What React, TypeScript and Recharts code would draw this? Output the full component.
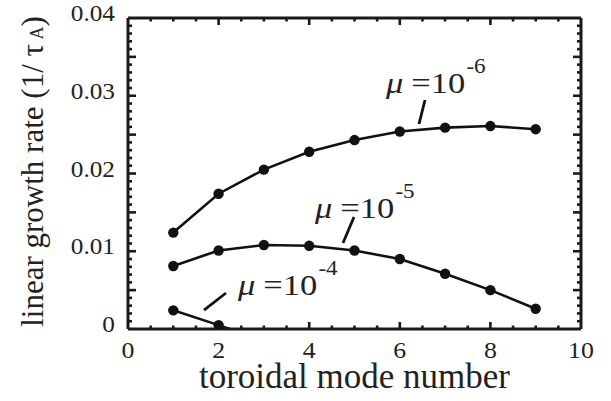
import React from 'react';
import { LineChart, Line, XAxis, YAxis, ReferenceLine, ReferenceDot, Label } from 'recharts';

// ---- data ----
const modeNumbers = [1, 2, 3, 4, 5, 6, 7, 8, 9];
const mu6 = [0.0124, 0.0174, 0.0205, 0.0228, 0.0243, 0.0254, 0.0259, 0.0261, 0.0257];
const mu5 = [0.0081, 0.0101, 0.0108, 0.0107, 0.0101, 0.009, 0.0071, 0.005, 0.0026];
const mu4 = [0.0024, 0.0005, -0.0015];

const xLabels = [0, 2, 4, 6, 8, 10];
const yLabels = [0, 0.01, 0.02, 0.03, 0.04];
const xDomain = [0, 10];
const yDomain = [0, 0.04];
const xMinorStep = 0.5;
const yMinorStep = 0.001;

const xTicks = Array.from({ length: 21 }, (_, i) => i * xMinorStep);
const yTicks = Array.from({ length: 41 }, (_, i) => Math.round(i * yMinorStep * 1000) / 1000);

const rows = modeNumbers.map((n, i) => ({
  n,
  mu6: mu6[i],
  mu5: mu5[i],
  mu4: i < mu4.length ? mu4[i] : null,
}));

// annotations (data coordinates)
const annotations = [
  { exp: '-6', at: { x: 5.695, y: 0.03035 }, seg: [{ x: 6.556, y: 0.02945 }, { x: 6.424, y: 0.02637 }] },
  { exp: '-5', at: { x: 4.128, y: 0.01428 }, seg: [{ x: 4.989, y: 0.0144 }, { x: 4.746, y: 0.01106 }] },
  { exp: '-4', at: { x: 2.428, y: 0.00437 }, seg: [{ x: 2.163, y: 0.00463 }, { x: 1.678, y: 0.00244 }] },
];

// ---- layout / styles ----
const W = 611;
const H = 401;
const MARGIN = { top: 18, right: 30, bottom: 0, left: 0 };
const Y_AXIS_W = 128;
const X_AXIS_H = 72;
const plotW = W - MARGIN.left - MARGIN.right - Y_AXIS_W;
const plotH = H - MARGIN.top - MARGIN.bottom - X_AXIS_H;
const pxToY = (px: number) => (px * (yDomain[1] - yDomain[0])) / plotH;
const pxToX = (px: number) => (px * (xDomain[1] - xDomain[0])) / plotW;

const FONT = "'Liberation Serif', 'Times New Roman', serif";
const AXIS = '#1a1a1a';
const INK = '#111111';
const TEXT = '#222222';
const STRETCH = 1.1;
const EPS_Y = 1e-7;
const EPS_X = 1e-5;
const TICK_W = 2.6;
const FRAME_W = 3;

const isMajorX = (v: number) => xLabels.some((l) => Math.abs(l - v) < 1e-9);
const isMajorY = (v: number) => Math.round(v * 1000) % 5 === 0;

const tickSegments: { key: string; seg: { x: number; y: number }[] }[] = [];
xTicks
  .filter((v) => v > xDomain[0] && v < xDomain[1])
  .forEach((v, i) => {
    const len = pxToY(isMajorX(v) ? 7 : 3.5);
    tickSegments.push({ key: `xb-${i}`, seg: [{ x: v, y: yDomain[0] + EPS_Y }, { x: v, y: yDomain[0] + len }] });
    tickSegments.push({ key: `xt-${i}`, seg: [{ x: v, y: yDomain[1] - EPS_Y }, { x: v, y: yDomain[1] - len }] });
  });
yTicks
  .filter((v) => v > yDomain[0] + 1e-9 && v < yDomain[1] - 1e-9)
  .forEach((v, i) => {
    const len = pxToX(isMajorY(v) ? 8 : 4);
    tickSegments.push({ key: `yl-${i}`, seg: [{ x: xDomain[0] + EPS_X, y: v }, { x: xDomain[0] + len, y: v }] });
    tickSegments.push({ key: `yr-${i}`, seg: [{ x: xDomain[1] - EPS_X, y: v }, { x: xDomain[1] - len, y: v }] });
  });

const BottomTick = (props: any) => {
  const { x, y, payload } = props;
  return (
    <text
      transform={`translate(${x},${y + 29}) scale(${STRETCH},1)`}
      textAnchor="middle"
      fontFamily={FONT}
      fontSize={23.5}
      fill={TEXT}
    >
      {payload.value}
    </text>
  );
};

const LeftTick = (props: any) => {
  const { x, y, payload } = props;
  const v = payload.value;
  return (
    <text
      transform={`translate(${x - 13},${y + 3}) scale(${STRETCH},1)`}
      textAnchor="end"
      fontFamily={FONT}
      fontSize={23}
      fill={TEXT}
    >
      {v === 0 ? '0' : v.toFixed(2)}
    </text>
  );
};

const XTitle = (props: any) => {
  const vb = props.viewBox || {};
  return (
    <text x={vb.x + vb.width / 2} y={vb.y + 59} textAnchor="middle" fontFamily={FONT} fontSize={35} fill={TEXT}>
      toroidal mode number
    </text>
  );
};

const YTitle = (props: any) => {
  const vb = props.viewBox || {};
  const cx = vb.x + 43;
  const cy = vb.y + vb.height / 2 - 2;
  return (
    <text x={cx} y={cy} textAnchor="middle" transform={`rotate(-90, ${cx}, ${cy})`} fontFamily={FONT} fontSize={31} fill={TEXT}>
      linear growth rate (1/ τ<tspan fontSize={18}> A</tspan>)
    </text>
  );
};

const MuLabel = (exp: string) => (props: any) => {
  const vb = props.viewBox || {};
  return (
    <text transform={`translate(${vb.x},${vb.y}) scale(1.15,1)`} fontFamily={FONT} fontSize={30} fill={TEXT}>
      <tspan fontStyle="italic">μ</tspan>
      <tspan dx={7}>=10</tspan>
      <tspan dy={-20} dx={1} fontSize={20}>
        {exp}
      </tspan>
    </text>
  );
};

const dot4 = (props: any) => {
  const { cx, cy, payload, index } = props;
  if (payload == null || payload.mu4 == null || payload.mu4 < 0 || cx == null || cy == null) {
    return <g key={`d4-${index}`} />;
  }
  return <circle key={`d4-${index}`} cx={cx} cy={cy} r={5.2} fill={INK} />;
};

const dotStyle = { r: 5.2, fill: INK, stroke: INK, strokeWidth: 0 };

export default function App() {
  return (
    <div style={{ position: 'absolute', left: 0, top: 0, background: '#fff' }}>
      <LineChart width={W} height={H} data={rows} margin={MARGIN}>
        <XAxis
          dataKey="n"
          type="number"
          domain={xDomain}
          allowDataOverflow
          ticks={xLabels}
          interval={0}
          tickSize={0}
          tickMargin={0}
          tickLine={false}
          tick={BottomTick}
          axisLine={{ stroke: AXIS, strokeWidth: FRAME_W }}
          height={X_AXIS_H}
        >
          <Label content={XTitle} />
        </XAxis>
        <YAxis
          type="number"
          domain={yDomain}
          allowDataOverflow
          ticks={yLabels}
          interval={0}
          tickSize={0}
          tickMargin={0}
          tickLine={false}
          tick={LeftTick}
          axisLine={{ stroke: AXIS, strokeWidth: FRAME_W }}
          width={Y_AXIS_W}
        >
          <Label content={YTitle} />
        </YAxis>
        <ReferenceLine y={yDomain[1]} stroke={AXIS} strokeWidth={FRAME_W} ifOverflow="visible" />
        <ReferenceLine x={xDomain[1]} stroke={AXIS} strokeWidth={FRAME_W} ifOverflow="visible" />
        {tickSegments.map((t) => (
          <ReferenceLine key={t.key} segment={t.seg} stroke={AXIS} strokeWidth={TICK_W} />
        ))}
        {annotations.map((a) => (
          <ReferenceLine key={`seg${a.exp}`} segment={a.seg} stroke={INK} strokeWidth={2.8} />
        ))}
        {annotations.map((a) => (
          <ReferenceDot key={`lab${a.exp}`} x={a.at.x} y={a.at.y} r={0} fill="none" stroke="none" label={MuLabel(a.exp)} />
        ))}
        <Line dataKey="mu6" stroke={INK} strokeWidth={2.6} dot={dotStyle} activeDot={false} isAnimationActive={false} />
        <Line dataKey="mu5" stroke={INK} strokeWidth={2.6} dot={dotStyle} activeDot={false} isAnimationActive={false} />
        <Line dataKey="mu4" stroke={INK} strokeWidth={2.6} dot={dot4} activeDot={false} isAnimationActive={false} />
      </LineChart>
    </div>
  );
}
